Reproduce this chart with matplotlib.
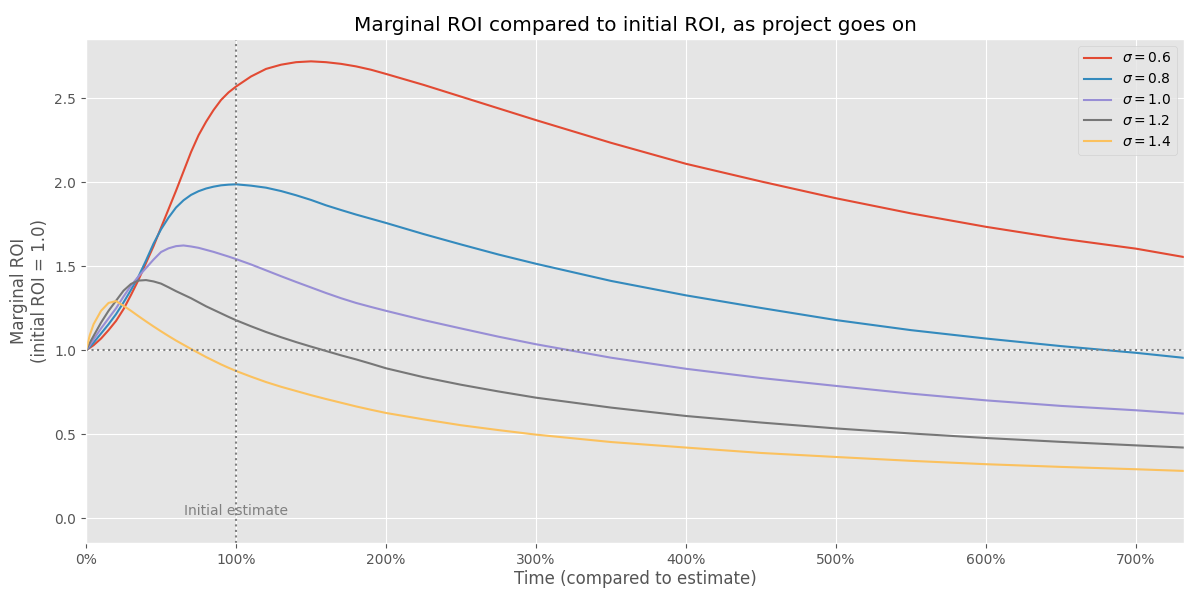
import matplotlib
matplotlib.use('Agg')
import matplotlib.pyplot as plt
from matplotlib.ticker import FuncFormatter

plt.style.use('ggplot')

### values
t = [0, 0.025, 0.05, 0.1, 0.15, 0.2, 0.25, 0.3, 0.35, 0.4, 0.45, 0.5,
     0.55, 0.6, 0.65, 0.7, 0.75, 0.8, 0.85, 0.9, 0.95, 1.0,
     1.1, 1.2, 1.3, 1.4, 1.5, 1.6, 1.7, 1.8, 1.9, 2.0,
     2.25, 2.5, 2.75, 3.0, 3.5, 4.0, 4.5, 5.0, 5.5, 6.0, 6.5, 7.0, 7.32]

sigmas = [0.6, 0.8, 1.0, 1.2, 1.4]

roi_06 = [1.0, 1.015, 1.03, 1.07, 1.12, 1.175, 1.245, 1.33, 1.42, 1.52, 1.62, 1.73,
          1.84, 1.95, 2.065, 2.18, 2.28, 2.36, 2.43, 2.49, 2.535, 2.57,
          2.63, 2.675, 2.70, 2.715, 2.72, 2.715, 2.705, 2.69, 2.67, 2.645,
          2.58, 2.51, 2.44, 2.37, 2.235, 2.11, 2.005, 1.905, 1.815, 1.735, 1.665, 1.605, 1.555]
roi_08 = [1.0, 1.02, 1.045, 1.10, 1.155, 1.215, 1.285, 1.36, 1.44, 1.535, 1.635, 1.72,
          1.79, 1.85, 1.893, 1.925, 1.947, 1.963, 1.974, 1.982, 1.986, 1.988,
          1.98, 1.968, 1.948, 1.923, 1.895, 1.863, 1.835, 1.808, 1.783, 1.758,
          1.692, 1.63, 1.57, 1.515, 1.413, 1.327, 1.252, 1.18, 1.12, 1.07, 1.025, 0.985, 0.955]
roi_10 = [1.0, 1.03, 1.065, 1.13, 1.19, 1.25, 1.32, 1.385, 1.44, 1.49, 1.54, 1.585,
          1.607, 1.62, 1.624, 1.618, 1.61, 1.598, 1.586, 1.572, 1.558, 1.543,
          1.511, 1.476, 1.441, 1.407, 1.374, 1.341, 1.31, 1.282, 1.258, 1.235,
          1.18, 1.13, 1.081, 1.036, 0.956, 0.89, 0.835, 0.788, 0.742, 0.702, 0.669, 0.643, 0.623]
roi_12 = [1.0, 1.045, 1.085, 1.165, 1.235, 1.295, 1.355, 1.395, 1.415, 1.418, 1.41, 1.397,
          1.375, 1.352, 1.331, 1.31, 1.286, 1.262, 1.241, 1.22, 1.199, 1.179,
          1.143, 1.109, 1.078, 1.049, 1.022, 0.996, 0.97, 0.946, 0.92, 0.893,
          0.84, 0.795, 0.755, 0.718, 0.659, 0.609, 0.57, 0.535, 0.505, 0.478, 0.455, 0.434, 0.421]
roi_14 = [1.0, 1.09, 1.155, 1.235, 1.282, 1.293, 1.265, 1.235, 1.203, 1.172, 1.142, 1.113,
          1.085, 1.058, 1.033, 1.008, 0.984, 0.96, 0.938, 0.916, 0.896, 0.877,
          0.843, 0.811, 0.783, 0.758, 0.733, 0.71, 0.688, 0.666, 0.646, 0.627,
          0.589, 0.554, 0.525, 0.498, 0.454, 0.421, 0.389, 0.365, 0.342, 0.322, 0.306, 0.292, 0.282]

fig, ax = plt.subplots(figsize=(12, 6), dpi=100)
fig.subplots_adjust(left=0.0717, right=0.9867, top=0.935, bottom=0.095)

for sigma, roi in zip(sigmas, [roi_06, roi_08, roi_10, roi_12, roi_14]):
    ax.plot(t, roi, label=r'$\sigma = %.1f$' % sigma)

ax.axvline(1.0, color='gray', linestyle=':')
ax.axhline(1.0, color='gray', linestyle=':')
ax.text(1.0, 0.0, 'Initial estimate', ha='center', va='bottom', color='gray')

ax.set_xlim(0, 7.32)
ax.set_ylim(-0.147, 2.853)
ax.xaxis.set_major_formatter(FuncFormatter(lambda x, pos: '%d%%' % round(x * 100)))

ax.set_title('Marginal ROI compared to initial ROI, as project goes on')
ax.set_xlabel('Time (compared to estimate)', labelpad=2)
ax.set_ylabel('Marginal ROI\n(initial ROI = 1.0)')
ax.legend(loc='upper right')

fig.savefig('out.png')
